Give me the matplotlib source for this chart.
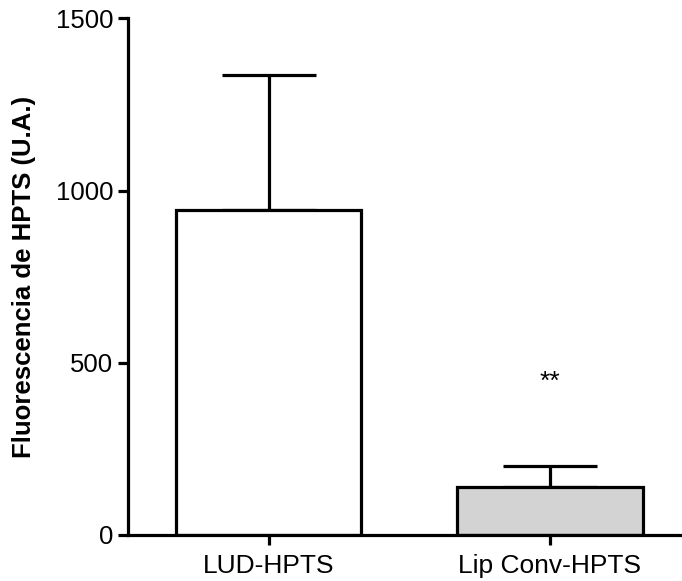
import matplotlib
matplotlib.use('Agg')
import matplotlib.pyplot as plt

# Datos
grupos = ['LUD-HPTS', 'Lip Conv-HPTS']
medias = [945, 140]
errores = [390, 60]
colores = ['white', '#d3d3d3']
significancia = ['', '**']
altura_sig = [0, 410]

plt.rcParams['font.family'] = ['Liberation Sans', 'DejaVu Sans']

fig = plt.figure(figsize=(6.82, 5.81), dpi=100)
ax = fig.add_axes([0.1877, 0.0792, 0.8123, 0.8890])

x = list(range(len(grupos)))
lw = 2.3
ax.bar(x, medias, width=0.66, color=colores, edgecolor='black', linewidth=lw, zorder=2)
ax.errorbar(x, medias, yerr=[[0] * len(errores), errores], fmt='none', ecolor='black',
            elinewidth=lw, capsize=34, capthick=lw, zorder=1)

for xi, s, h in zip(x, significancia, altura_sig):
    if s:
        ax.text(xi, h, s, ha='center', va='bottom', fontsize=19)

ax.set_xlim(-0.5, 1.47)
ax.set_ylim(0, 1500)
ax.set_yticks([0, 500, 1000, 1500])
ax.set_xticks(x)
ax.set_xticklabels(grupos)
ax.set_ylabel('Fluorescencia de HPTS (U.A.)', fontsize=18.5, fontweight='bold', labelpad=14)

for side in ['top', 'right']:
    ax.spines[side].set_visible(False)
for side in ['left', 'bottom']:
    ax.spines[side].set_linewidth(lw)
ax.tick_params(axis='both', direction='out', length=7.5, width=lw, labelsize=19)
ax.tick_params(axis='y', labelsize=18.5, pad=3)
ax.tick_params(axis='x', pad=6)

fig.savefig('out.png', dpi=100)
